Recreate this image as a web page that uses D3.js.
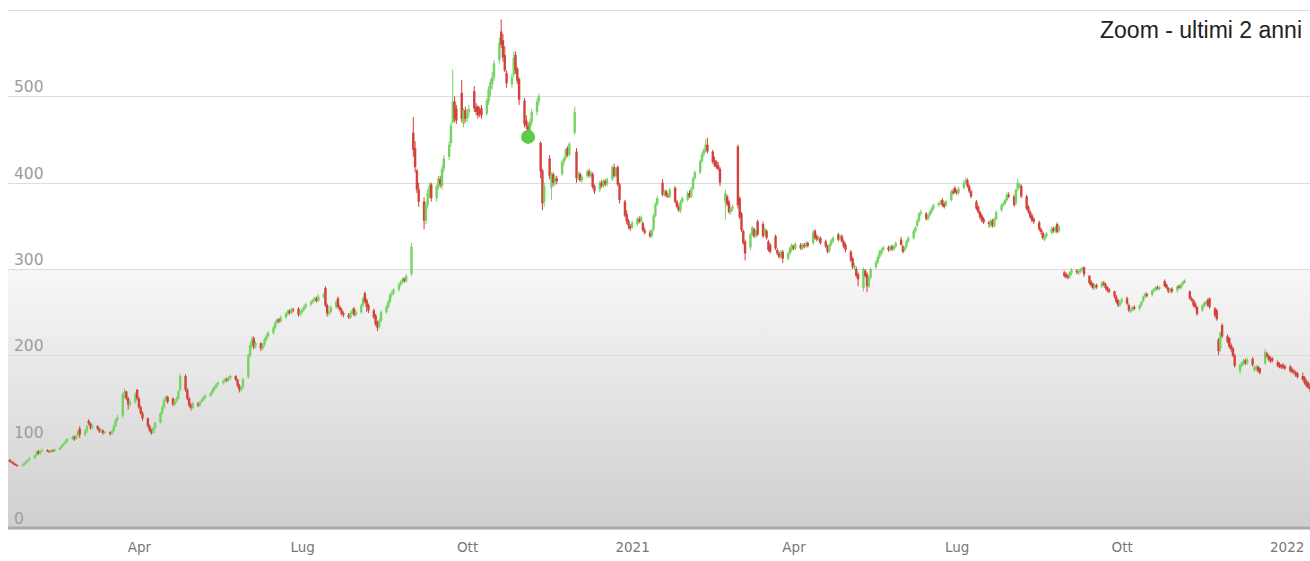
<!DOCTYPE html>
<html lang="it">
<head>
<meta charset="UTF-8">
<title>Zoom - ultimi 2 anni</title>
<script src="https://d3js.org/d3.v7.min.js"></script>
<style>
    body { margin: 0; background: #fff; }
    svg { display: block; }
    .grid line { stroke: #dcdcdc; stroke-width: 1; }
    .ylab { font-family: "DejaVu Sans", sans-serif; font-size: 15.5px; fill: #9c9c9c; }
    .xaxis text { font-family: "DejaVu Sans", sans-serif; font-size: 13.5px; fill: #777; }
    .title { font-family: "Liberation Sans", Arial, sans-serif; font-size: 23px; fill: #222; }
</style>
</head>
<body>
<svg id="chart" width="1310" height="561"></svg>
<script>
// first trading day shown; one candle per weekday from here on
const firstDay = "2020-01-20";

// daily candles, one row = one week (Mon..Fri)
const opens = [
 79,77,76,74,73, 72,73,75,77,79, 81,84,89,86,89, 90,89,88,90,89, 91,93,96,98,100,
 103,106,103,107,115, 108,112,124,121,116, 118,115,112,113,110, 111,109,112,118,125, 130,152,158,150,143,
 146,160,150,140,133, 127,118,113,110,116, 122,133,140,148,152, 150,143,147,150,160, 176,160,150,143,139,
 144,142,146,148,151, 153,156,160,163,166, 168,170,173,171,174, 176,172,165,160,163, 175,200,212,220,210,
 214,208,212,218,222, 226,232,238,242,239, 244,248,252,249,253, 254,247,250,253,256, 259,262,264,266,263,
 268,278,258,248,250, 256,266,256,253,249, 247,244,249,254,247, 250,258,272,264,258, 252,246,238,233,240,
 250,256,262,270,272, 276,282,285,289,286, 294,458,440,414,392, 378,356,374,388,398, 382,396,404,396,416,
 430,446,470,494,486, 504,468,484,474,482, 506,488,488,484,486, 480,494,508,514,522, 542,575,565,548,527,
 514,525,548,532,520, 495,472,466,456,470, 482,494,446,414,378, 428,394,410,400,405, 410,424,428,440,432,
 458,436,406,410,403, 408,413,408,410,396, 392,400,396,402,398, 404,418,408,418,398, 378,364,356,350,348,
 352,358,355,353,345, 342,338,346,362,375, 400,386,390,385,384, 394,378,372,368,378, 380,388,384,393,405,
 412,425,433,438,444, 436,426,424,420,416, 378,384,378,366,370, 442,382,364,344,332, 325,340,346,338,355,
 352,340,344,332,328, 338,322,318,314,320, 312,318,322,326,324, 328,324,328,326,330, 330,344,338,334,336,
 332,326,321,328,332, 340,336,338,332,328, 320,312,302,300,294, 278,298,294,280,290, 302,308,314,318,322,
 325,322,326,323,326, 334,326,322,326,332, 336,344,350,356,364, 364,358,362,366,370, 374,376,380,376,374,
 380,390,394,390,388, 394,400,403,396,390, 378,372,366,362,358, 354,350,356,350,358, 368,374,376,380,386,
 384,376,392,396,396, 384,372,366,362,358, 354,346,342,334,338, 342,347,344,352,344, 296,294,292,291,295,
 298,295,297,299,302, 292,285,283,278,281, 280,284,282,279,276, 274,268,264,258,262, 266,258,251,253,256,
 254,258,263,268,271, 270,275,276,279,277, 286,282,278,274,277, 275,280,278,282,284, 274,266,264,260,256,
 252,257,260,264,266, 254,252,218,208,235, 222,220,212,208,200, 182,188,190,194,191, 196,183,184,187,185,
 191,202,199,197,196, 192,190,188,189,187, 187,184,182,180,179, 176,174,170,168,165
];
const highs = [
 80,78,77,75,74, 74,76,78,80,82, 85,90,90,90,92, 91,90,91,91,92, 94,97,99,102,104,
 107,107,108,114,118, 114,120,126,122,120, 119,116,115,114,112, 112,114,120,127,131, 157,162,159,152,148,
 157,161,152,142,135, 128,120,115,117,123, 134,142,150,154,153, 151,148,152,160,179, 178,162,152,145,146,
 146,147,150,153,155, 158,162,165,168,170, 172,174,174,176,178, 177,173,167,164,174, 202,215,222,222,216,
 215,214,220,224,228, 234,240,243,243,246, 250,253,253,255,255, 256,252,255,258,261, 264,266,268,268,271,
 272,280,260,252,258, 264,268,258,255,251, 249,251,255,256,252, 260,268,274,266,260, 254,248,240,242,252,
 258,264,272,275,278, 284,287,290,290,294, 330,476,448,416,400, 383,378,392,400,400, 398,408,408,420,432,
 448,470,531,500,490, 519,486,488,486,490, 512,492,490,488,490, 498,512,520,528,542, 568,589,572,558,530,
 526,552,552,534,522, 498,478,470,474,486, 498,503,448,416,400, 432,412,412,408,408, 426,430,440,442,447,
 488,440,413,412,409, 415,416,414,412,398, 402,403,404,404,406, 420,422,418,420,400, 380,368,358,352,356,
 360,361,362,355,348, 345,347,364,377,385, 404,392,392,388,394, 396,380,375,380,384, 390,391,395,407,414,
 427,436,440,450,452, 438,430,426,424,418, 392,386,380,372,375, 444,384,366,346,334, 342,350,348,346,357,
 355,348,346,334,330, 340,324,320,322,322, 320,326,330,328,331, 330,330,330,332,332, 345,346,340,338,338,
 334,328,330,335,338, 342,340,340,334,330, 322,314,307,303,296, 302,300,296,292,302, 310,316,322,324,327,
 327,328,328,328,332, 337,328,327,334,338, 346,350,358,366,369, 366,364,368,372,376, 378,380,382,378,380,
 392,393,396,392,395, 402,406,405,398,392, 380,374,368,364,360, 356,358,358,360,368, 376,378,382,389,389,
 386,393,404,400,398, 386,374,368,364,360, 356,348,344,340,343, 349,349,350,354,351, 298,296,294,297,301,
 300,299,301,303,303, 293,287,284,283,283, 286,286,284,280,278, 275,270,265,263,267, 268,260,255,257,258,
 259,263,269,273,273, 276,278,280,281,280, 288,283,279,278,279, 281,282,283,286,288, 275,268,265,262,257,
 259,262,263,266,267, 256,254,220,228,237, 224,221,214,210,202, 190,193,196,196,197, 198,188,189,188,186,
 207,204,201,199,198, 194,192,190,191,189, 189,186,184,182,181, 180,176,172,170,167
];
const lows = [
 76,75,73,72,71, 71,72,74,76,78, 80,83,85,85,88, 88,87,87,88,88, 90,92,95,97,99,
 102,101,102,106,104, 106,110,119,114,114, 113,110,110,108,109, 107,108,111,117,123, 128,150,148,137,140,
 144,148,138,131,124, 116,111,108,109,114, 121,131,138,146,144, 141,142,145,149,158, 158,148,140,136,138,
 140,141,145,147,150, 152,155,158,161,164, 166,168,169,170,172, 170,163,157,158,161, 173,198,208,207,208,
 205,206,210,216,220, 224,230,236,237,238, 242,246,247,248,250, 245,245,248,251,254, 257,260,262,261,262,
 266,256,245,246,249, 254,254,251,246,244, 242,242,247,245,245, 248,256,260,250,249, 242,234,228,231,238,
 248,254,260,267,270, 274,280,283,284,284, 292,430,412,388,372, 346,352,370,382,378, 378,392,394,392,412,
 426,442,468,470,468, 470,464,470,470,476, 482,478,474,476,474, 478,490,500,508,518, 538,556,540,528,510,
 510,522,526,514,490, 464,462,452,450,466, 478,490,405,368,372, 404,380,396,396,398, 408,420,426,430,430,
 455,400,403,401,400, 405,406,405,393,387, 389,394,394,396,396, 402,406,406,396,376, 360,352,346,344,346,
 350,353,353,343,340, 336,336,344,360,373, 384,384,383,382,382, 376,370,366,365,376, 378,382,382,391,403,
 410,423,430,435,434, 422,418,416,414,396, 357,373,364,363,367, 370,358,343,328,310, 322,338,336,336,338,
 336,338,334,320,318, 322,316,312,312,307, 310,316,320,322,322, 322,322,324,324,325, 328,334,332,332,328,
 324,318,319,326,330, 332,333,330,324,319, 308,300,299,290,280, 274,290,273,278,288, 300,306,312,316,320,
 320,320,321,321,324, 327,318,320,324,330, 334,342,348,354,362, 356,356,360,364,368, 372,374,372,370,372,
 378,386,387,386,386, 392,398,394,388,382, 368,364,358,354,352, 348,348,348,348,356, 366,372,374,378,382,
 372,374,390,394,382, 368,364,358,354,352, 344,340,334,332,336, 340,342,342,341,342, 290,289,288,289,293,
 294,293,295,297,291, 282,279,276,276,277, 278,280,276,273,272, 266,260,256,256,260, 258,250,249,251,252,
 252,256,261,266,267, 268,273,274,276,275, 279,277,272,272,272, 273,277,276,280,283, 264,262,256,254,246,
 250,255,258,256,254, 244,240,200,204,220, 214,208,204,198,186, 178,186,188,189,189, 187,181,182,180,178,
 189,197,193,191,192, 186,185,184,184,183, 180,179,178,175,173, 170,166,163,161,158
];
const closes = [
 77,76,74,73,72, 73,75,77,79,80, 84,88,86,89,90, 89,88,90,89,91, 93,96,98,100,103,
 105,103,107,112,108, 112,118,121,116,118, 115,112,113,110,111, 109,112,118,125,128, 155,158,150,143,146,
 155,150,140,133,127, 118,113,110,116,122, 133,140,148,152,146, 143,147,150,158,176, 160,150,142,139,144,
 142,146,148,151,153, 156,160,163,166,168, 170,172,171,174,176, 172,165,160,163,172, 200,212,218,210,214,
 208,212,218,222,226, 232,238,241,239,244, 248,251,249,253,252, 247,250,253,256,259, 262,264,266,263,268,
 270,258,248,250,256, 262,256,253,248,247, 244,249,252,247,250, 258,266,262,256,252, 244,236,232,240,250,
 256,262,270,272,276, 282,285,288,286,292, 326,438,418,392,378, 356,374,388,396,382, 396,405,398,416,428,
 444,466,494,474,472, 474,484,474,482,485, 486,482,478,480,478, 495,508,516,522,538, 562,560,545,530,515,
 522,545,530,518,496, 468,466,458,470,482, 494,500,413,376,396, 408,410,400,405,402, 424,428,438,432,445,
 482,405,410,403,407, 413,408,412,395,390, 400,396,402,398,404, 418,408,416,398,380, 362,355,350,347,354,
 358,355,360,345,342, 338,345,362,375,382, 386,390,385,384,392, 378,372,368,378,382, 388,384,393,405,412,
 425,433,438,444,436, 424,420,418,416,400, 388,375,366,370,372, 374,360,345,330,318, 340,348,338,344,340,
 338,346,336,322,320, 324,318,314,320,312, 318,324,328,324,329, 324,328,326,330,327, 342,336,334,336,330,
 326,320,328,333,336, 334,338,332,326,322, 310,302,304,292,288, 300,292,280,290,300, 308,314,320,322,325,
 322,326,323,326,330, 328,320,325,332,336, 344,348,356,364,366, 358,362,366,370,374, 376,378,374,372,378,
 390,388,389,388,393, 400,403,396,390,384, 370,366,360,356,354, 352,356,350,358,366, 374,376,380,386,384,
 374,392,400,398,384, 370,366,360,356,355, 346,343,336,338,341, 347,344,348,343,349, 292,291,290,296,299,
 296,298,300,301,294, 284,281,278,281,279, 284,282,278,275,274, 268,262,258,262,265, 260,252,254,256,254,
 258,262,268,271,269, 275,277,279,277,279, 280,278,274,277,274, 280,278,282,285,287, 266,264,258,256,248,
 258,261,262,258,256, 246,242,205,226,222, 216,210,207,200,188, 189,192,194,191,195, 189,186,187,182,180,
 204,199,195,193,194, 188,187,186,186,185, 182,181,180,177,175, 172,168,165,163,161
];

// green marker dot
const markerDate = "2020-11-04";
const markerValue = 453;

const yTicks = [100, 200, 300, 400, 500, 600];
const yLabels = [0, 100, 200, 300, 400, 500];
const shortMonths = ["Gen", "Feb", "Mar", "Apr", "Mag", "Giu", "Lug", "Ago", "Set", "Ott", "Nov", "Dic"];

const width = 1310, height = 561;
const plot = { left: 8, right: 1310, top: 10, bottom: 528 };
const upColor = "#74d460", downColor = "#d3413b";

const parse = d3.timeParse("%Y-%m-%d");

// weekdays starting at firstDay
const days = [];
let cur = parse(firstDay);
while (days.length < closes.length) {
    if (cur.getDay() !== 0 && cur.getDay() !== 6) days.push(cur);
    cur = d3.timeDay.offset(cur, 1);
}

const x = d3.scaleTime()
    .domain([parse("2020-01-19"), parse("2022-01-14")])
    .range([plot.left, plot.right]);
const y = d3.scaleLinear().domain([0, 600]).range([plot.bottom, plot.top]);

const svg = d3.select("#chart");

const grad = svg.append("defs").append("linearGradient")
    .attr("id", "bg").attr("x1", 0).attr("y1", 0).attr("x2", 0).attr("y2", 1);
grad.append("stop").attr("offset", "0").attr("stop-color", "#ffffff");
grad.append("stop").attr("offset", "0.5").attr("stop-color", "#ffffff");
grad.append("stop").attr("offset", "0.502").attr("stop-color", "#f7f7f7");
grad.append("stop").attr("offset", "1").attr("stop-color", "#cfcfcf");

svg.append("rect")
    .attr("x", plot.left).attr("y", plot.top)
    .attr("width", plot.right - plot.left).attr("height", plot.bottom - plot.top)
    .attr("fill", "url(#bg)");

svg.append("g").attr("class", "grid")
    .selectAll("line").data(yTicks).enter().append("line")
    .attr("x1", plot.left).attr("x2", plot.right)
    .attr("y1", d => Math.round(y(d)) + 0.5).attr("y2", d => Math.round(y(d)) + 0.5);

svg.append("g").selectAll("text").data(yLabels).enter().append("text")
    .attr("class", "ylab")
    .attr("x", 14)
    .attr("y", d => y(d) - 4)
    .text(d => d);

// candles
const candles = svg.append("g").selectAll("g").data(closes).enter().append("g");
candles.append("line")
    .attr("x1", (d, i) => x(days[i])).attr("x2", (d, i) => x(days[i]))
    .attr("y1", (d, i) => y(highs[i])).attr("y2", (d, i) => y(lows[i]))
    .attr("stroke", (d, i) => d >= opens[i] ? upColor : downColor)
    .attr("stroke-width", 1);
candles.append("rect")
    .attr("x", (d, i) => x(days[i]) - 1.2)
    .attr("width", 2.4)
    .attr("y", (d, i) => y(Math.max(d, opens[i])))
    .attr("height", (d, i) => Math.max(1, Math.abs(y(d) - y(opens[i]))))
    .attr("fill", (d, i) => d >= opens[i] ? upColor : downColor);

svg.append("circle")
    .attr("cx", x(parse(markerDate))).attr("cy", y(markerValue))
    .attr("r", 7).attr("fill", "#5dcb4b");

// bottom axis
svg.append("line")
    .attr("x1", plot.left).attr("x2", plot.right)
    .attr("y1", plot.bottom).attr("y2", plot.bottom)
    .attr("stroke", "#ababab").attr("stroke-width", 3);

const xAxis = d3.axisBottom(x)
    .tickValues(d3.timeMonth.every(3).range(parse("2020-04-01"), parse("2022-01-02")))
    .tickSize(0)
    .tickFormat(d => d.getMonth() === 0 ? d.getFullYear() : shortMonths[d.getMonth()]);

const ax = svg.append("g").attr("class", "xaxis")
    .attr("transform", "translate(0," + plot.bottom + ")")
    .call(xAxis);
ax.select(".domain").remove();
ax.selectAll("text").attr("y", 24).attr("dy", 0);

svg.append("text").attr("class", "title")
    .attr("x", 1302).attr("y", 38)
    .attr("text-anchor", "end")
    .text("Zoom - ultimi 2 anni");
</script>
</body>
</html>
